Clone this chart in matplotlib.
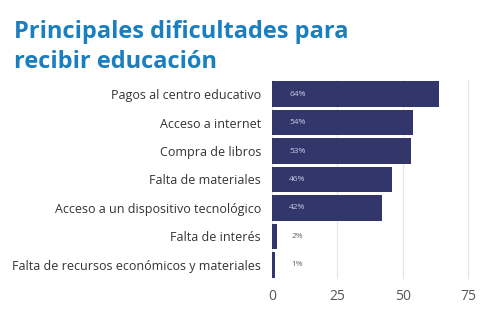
import matplotlib.pyplot as plt
import numpy as np

categories = [
    "Pagos al centro educativo",
    "Acceso a internet",
    "Compra de libros",
    "Falta de materiales",
    "Acceso a un dispositivo tecnológico",
    "Falta de interés",
    "Falta de recursos económicos y materiales",
]
values = [64, 54, 53, 46, 42, 2, 1]
xticks = [0, 25, 50, 75]

bar_color = "#33366b"
title_color = "#1a7fc1"

plt.rcParams["font.family"] = ["Open Sans", "DejaVu Sans"]

fig = plt.figure(figsize=(5, 3.21), dpi=100)
ax = fig.add_axes([272 / 500, 1 - 279 / 321, (476 - 272) / 500, (279 - 80) / 321])

y = np.arange(len(categories))
ax.barh(y, values, height=0.9, color=bar_color, zorder=2)
ax.set_ylim(len(categories) - 0.5, -0.5)
ax.set_xlim(0, 78)

for yi, v in zip(y, values):
    if v > 10:
        ax.text(6.5, yi, f"{v}%", va="center", ha="left", fontsize=6, color="#c8cbe0")
    else:
        ax.text(7.5, yi, f"{v}%", va="center", ha="left", fontsize=6, color="#666666")

ax.set_yticks(y)
ax.set_yticklabels(categories, fontsize=9, color="#333333")
ax.set_xticks(xticks)
ax.set_xticklabels([str(t) for t in xticks], fontsize=10, color="#555555")
ax.tick_params(axis="both", length=0)
ax.tick_params(axis="y", pad=8)
ax.tick_params(axis="x", pad=7)
for s in ax.spines.values():
    s.set_visible(False)
ax.grid(axis="x", color="#e6e6e6", linewidth=0.8, zorder=0)
ax.set_axisbelow(True)

fig.text(14 / 500, 1 - 38 / 321, "Principales dificultades para", fontsize=17,
         fontweight="bold", color=title_color, va="baseline", ha="left")
fig.text(14 / 500, 1 - 68 / 321, "recibir educación", fontsize=17,
         fontweight="bold", color=title_color, va="baseline", ha="left")

fig.savefig("out.png", dpi=100)
